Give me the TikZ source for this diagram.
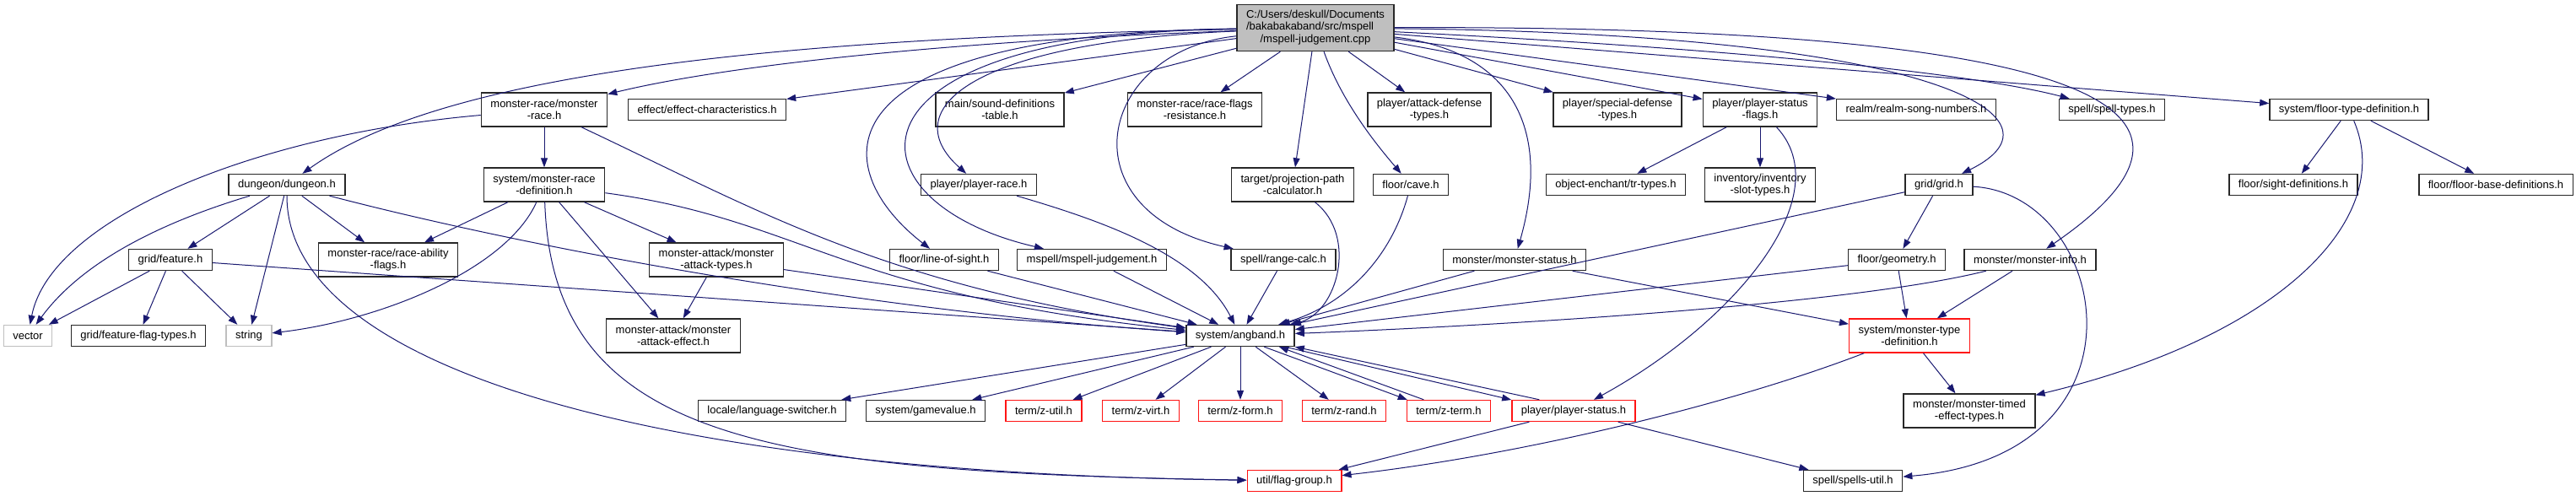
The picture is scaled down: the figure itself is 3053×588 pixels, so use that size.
\documentclass[tikz,border=0pt]{standalone}
\usepackage{fontspec}
\setmainfont{Liberation Sans}
\usepackage{tikz}
\usetikzlibrary{arrows.meta}
\definecolor{edgeblue}{RGB}{25,25,112}
\definecolor{nodegray}{RGB}{191,191,191}
\definecolor{trunred}{RGB}{255,20,20}
\definecolor{boxline}{RGB}{40,40,40}
\tikzset{
  hbox/.style   ={rectangle, draw=boxline, line width=0.7pt, fill=white, align=center,
                  inner xsep=5.5pt, inner ysep=0pt, minimum height=12.5pt},
  hbox2/.style  ={hbox, minimum height=20pt},
  rbox/.style   ={hbox, draw=trunred},
  rbox2/.style  ={hbox2, draw=trunred},
  sysbox/.style ={hbox, draw=nodegray},
  rootbox/.style={hbox, fill=nodegray, minimum height=27.5pt},
  flow/.style   ={-{Triangle[length=5.5pt,width=4pt]}, line width=0.5pt, draw=edgeblue}
}
\begin{document}
\begin{tikzpicture}[x=0.5pt, y=-0.5pt, font=\fontsize{6.5}{7.35}\selectfont]
\path[use as bounding box, fill=white] (0,0) rectangle (3053,588);
\node[rootbox] (root) at (1559,33) {\begin{tabular}{@{}l@{}}C:/Users/deskull/Documents\\/bakabakaband/src/mspell\\\multicolumn{1}{@{}c@{}}{/mspell-judgement.cpp}\end{tabular}};

\node[hbox2] (mrace) at (645,130) {monster-race/monster\\-race.h};
\node[hbox] (effchar) at (838,130) {effect/effect-characteristics.h};
\node[hbox2] (sound) at (1185,130) {main/sound-definitions\\-table.h};
\node[hbox2] (rfres) at (1416,130) {monster-race/race-flags\\-resistance.h};
\node[hbox2] (atkdef) at (1694,130) {player/attack-defense\\-types.h};
\node[hbox2] (spdef) at (1917,130) {player/special-defense\\-types.h};
\node[hbox2] (psflags) at (2086,130) {player/player-status\\-flags.h};
\node[hbox] (realm) at (2271,130) {realm/realm-song-numbers.h};
\node[hbox] (spelltypes) at (2503,130) {spell/spell-types.h};
\node[hbox] (floortype) at (2784,130) {system/floor-type-definition.h};

\node[hbox] (dungeon) at (340,219) {dungeon/dungeon.h};
\node[hbox2] (mrdef) at (645,219) {system/monster-race\\-definition.h};
\node[hbox] (prace) at (1160,219) {player/player-race.h};
\node[hbox2] (projpath) at (1532,219) {target/projection-path\\-calculator.h};
\node[hbox] (cave) at (1672,219) {floor/cave.h};
\node[hbox] (trtypes) at (1915,219) {object-enchant/tr-types.h};
\node[hbox2] (invslot) at (2086,219) {inventory/inventory\\-slot-types.h};
\node[hbox] (grid) at (2298,219) {grid/grid.h};
\node[hbox] (sightdef) at (2718,219) {floor/sight-definitions.h};
\node[hbox] (floorbase) at (2958,219) {floor/floor-base-definitions.h};

\node[hbox] (feature) at (202,308) {grid/feature.h};
\node[hbox2] (rability) at (460,308) {monster-race/race-ability\\-flags.h};
\node[hbox2] (mattypes) at (849,308) {monster-attack/monster\\-attack-types.h};
\node[hbox] (los) at (1119,308) {floor/line-of-sight.h};
\node[hbox] (mjudge) at (1294,308) {mspell/mspell-judgement.h};
\node[hbox] (rangecalc) at (1521,308) {spell/range-calc.h};
\node[hbox] (mstatus) at (1795,308) {monster/monster-status.h};
\node[hbox] (geometry) at (2248,308) {floor/geometry.h};
\node[hbox] (minfo) at (2406,308) {monster/monster-info.h};

\node[sysbox] (vector) at (33,398) {vector};
\node[hbox] (ffltypes) at (164,398) {grid/feature-flag-types.h};
\node[sysbox] (string) at (295,398) {string};
\node[hbox2] (mateffect) at (798,398) {monster-attack/monster\\-attack-effect.h};
\node[hbox] (angband) at (1470,398) {system/angband.h};
\node[rbox2] (mtypedef) at (2263,398) {system/monster-type\\-definition.h};

\node[hbox] (langsw) at (915,487) {locale/language-switcher.h};
\node[hbox] (gamevalue) at (1097,487) {system/gamevalue.h};
\node[rbox] (zutil) at (1237,487) {term/z-util.h};
\node[rbox] (zvirt) at (1352,487) {term/z-virt.h};
\node[rbox] (zform) at (1470,487) {term/z-form.h};
\node[rbox] (zrand) at (1593,487) {term/z-rand.h};
\node[rbox] (zterm) at (1717,487) {term/z-term.h};
\node[rbox] (pstatus) at (1865,487) {player/player-status.h};
\node[hbox2] (mtimed) at (2334,487) {monster/monster-timed\\-effect-types.h};

\node[rbox] (flaggroup) at (1534,570) {util/flag-group.h};
\node[hbox] (spellsutil) at (2196,570) {spell/spells-util.h};

\draw[flow] (root) .. controls (1100,50) and (850,80) .. (mrace);
\draw[flow] (root) -- (effchar);
\draw[flow] (root) .. controls (900,45) and (520,90) .. (dungeon);
\draw[flow] (root) -- (sound);
\draw[flow] (root) -- (rfres);
\draw[flow] (root) -- (projpath);
\draw[flow] (root) .. controls (1590,120) and (1630,170) .. (cave);
\draw[flow] (root) -- (atkdef);
\draw[flow] (root) -- (spdef);
\draw[flow] (root) -- (psflags);
\draw[flow] (root) -- (realm);
\draw[flow] (root) .. controls (2100,60) and (2350,90) .. (spelltypes);
\draw[flow] (root) -- (floortype);
\draw[flow] (root) .. controls (2300,40) and (2460,140) .. (grid);
\draw[flow] (root) .. controls (2450,30) and (2680,120) .. (minfo);
\draw[flow] (root) .. controls (1790,60) and (1840,150) .. (mstatus);
\draw[flow] (root) .. controls (1150,50) and (1060,130) .. (prace);
\draw[flow] (root) .. controls (960,40) and (980,200) .. (los);
\draw[flow] (root) .. controls (980,40) and (1000,240) .. (mjudge);
\draw[flow] (root) .. controls (1300,60) and (1260,250) .. (rangecalc);

\draw[flow] (mrace) -- (mrdef);
\draw[flow] (mrace) .. controls (300,160) and (60,260) .. (vector);
\draw[flow] (mrace) .. controls (900,250) and (1050,340) .. (angband);
\draw[flow] (mrdef) -- (rability);
\draw[flow] (mrdef) .. controls (600,320) and (450,380) .. (string);
\draw[flow] (mrdef) .. controls (655,520) and (900,560) .. (flaggroup);
\draw[flow] (mrdef) -- (mateffect);
\draw[flow] (mrdef) -- (mattypes);
\draw[flow] (mrdef) .. controls (950,260) and (1000,350) .. (angband);
\draw[flow] (mattypes) -- (mateffect);
\draw[flow] (mattypes) -- (angband);
\draw[flow] (dungeon) .. controls (170,270) and (90,320) .. (vector);
\draw[flow] (dungeon) -- (feature);
\draw[flow] (dungeon) -- (string);
\draw[flow] (dungeon) -- (rability);
\draw[flow] (dungeon) .. controls (650,300) and (1050,370) .. (angband);
\draw[flow] (dungeon) .. controls (340,430) and (750,560) .. (flaggroup);
\draw[flow] (feature) -- (vector);
\draw[flow] (feature) -- (ffltypes);
\draw[flow] (feature) -- (string);
\draw[flow] (feature) -- (angband);

\draw[flow] (prace) .. controls (1300,260) and (1420,300) .. (angband);
\draw[flow] (los) -- (angband);
\draw[flow] (mjudge) -- (angband);
\draw[flow] (rangecalc) -- (angband);
\draw[flow] (projpath) .. controls (1610,280) and (1585,372) .. (angband);
\draw[flow] (cave) .. controls (1650,300) and (1600,360) .. (angband);
\draw[flow] (mstatus) -- (angband);
\draw[flow] (mstatus) -- (mtypedef);
\draw[flow] (grid) -- (angband);
\draw[flow] (grid) -- (geometry);
\draw[flow] (grid) .. controls (2500,230) and (2560,540) .. (spellsutil);
\draw[flow] (geometry) -- (angband);
\draw[flow] (geometry) -- (mtypedef);
\draw[flow] (minfo) .. controls (2200,360) and (1800,385) .. (angband);
\draw[flow] (minfo) -- (mtypedef);
\draw[flow] (psflags) -- (trtypes);
\draw[flow] (psflags) -- (invslot);
\draw[flow] (psflags) .. controls (2180,230) and (2060,380) .. (pstatus);
\draw[flow] (floortype) -- (sightdef);
\draw[flow] (floortype) -- (floorbase);
\draw[flow] (floortype) .. controls (2840,260) and (2700,400) .. (mtimed);
\draw[flow] (mtypedef) -- (mtimed);
\draw[flow] (mtypedef) .. controls (2050,480) and (1800,540) .. (flaggroup);

\draw[flow] (angband) -- (langsw);
\draw[flow] (angband) -- (gamevalue);
\draw[flow] (angband) -- (zutil);
\draw[flow] (angband) -- (zvirt);
\draw[flow] (angband) -- (zform);
\draw[flow] (angband) -- (zrand);
\draw[flow] (angband.-25) -- (zterm.165);
\draw[flow] (zterm.156) -- (angband.-16);
\draw[flow] (angband.-14) -- (pstatus.170);
\draw[flow] (pstatus.162) -- (angband.south east);
\draw[flow] (pstatus) -- (flaggroup);
\draw[flow] (pstatus) -- (spellsutil);
\end{tikzpicture}
\end{document}
